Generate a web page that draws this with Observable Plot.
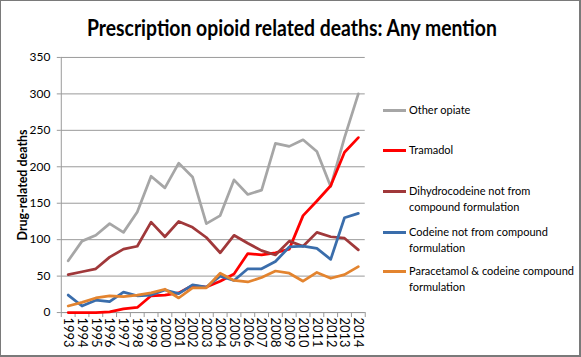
<!DOCTYPE html>
<html>
<head>
<meta charset="utf-8">
<script src="https://cdn.jsdelivr.net/npm/d3@7"></script>
<script src="https://cdn.jsdelivr.net/npm/@observablehq/plot@0.6"></script>
<style>
  html, body { margin: 0; padding: 0; background: #fff; }
  #wrap { position: relative; width: 581px; height: 357px; box-sizing: border-box;
          border: 1px solid #7a7a7a; border-right-width: 2px; border-bottom-width: 2px; overflow: hidden;
          font-family: Lato, "Open Sans", sans-serif; }
  #title { position: absolute; left: 0; top: 13px; width: 581px; text-align: center;
           font-weight: bold; font-size: 22px; color: #000; white-space: nowrap; }
  #title span { display: inline-block; transform: scaleX(0.88); transform-origin: center; }
  #chart { position: absolute; left: -1px; top: 39px; }
  #legend { position: absolute; left: 382px; top: 0; font-size: 11px; color: #000; }
  .item { position: absolute; left: 0; width: 190px; }
  .swatch { position: absolute; left: 0; width: 23px; height: 3px; }
  .label { position: absolute; left: 26px; line-height: 15.5px; white-space: nowrap; }
</style>
</head>
<body>
<div id="wrap">
  <div id="title"><span>Prescription opioid related deaths: Any mention</span></div>
  <div id="chart"></div>
  <div id="legend"></div>
</div>
<script>
const years = [1993,1994,1995,1996,1997,1998,1999,2000,2001,2002,2003,2004,2005,2006,2007,2008,2009,2010,2011,2012,2013,2014];
const seriesNames = [
  "Other opiate",
  "Tramadol",
  "Dihydrocodeine not from compound formulation",
  "Codeine not from compound formulation",
  "Paracetamol & codeine compound formulation"
];
const legendLines = [
  ["Other opiate"],
  ["Tramadol"],
  ["Dihydrocodeine not from", "compound formulation"],
  ["Codeine not from compound", "formulation"],
  ["Paracetamol & codeine compound", "formulation"]
];
const seriesColors = ["#A6A6A6", "#FF0000", "#A0383A", "#3A6DAB", "#E3842F"];
const otherOpiate    = [71, 98, 106, 122, 110, 138, 187, 171, 205, 186, 122, 133, 182, 162, 168, 232, 228, 237, 221, 173, 240, 300];
const tramadol       = [0, 0, 0, 1, 5, 7, 23, 24, 27, 37, 35, 43, 53, 81, 79, 82, 87, 133, 153, 174, 220, 240];
const dihydrocodeine = [52, 56, 60, 76, 87, 91, 124, 104, 125, 117, 103, 82, 106, 95, 85, 79, 98, 91, 110, 104, 102, 86];
const codeine        = [24, 9, 17, 15, 28, 23, 24, 31, 26, 38, 35, 50, 44, 60, 60, 70, 90, 91, 88, 73, 130, 136];
const paracetamol    = [9, 14, 20, 23, 22, 24, 27, 32, 20, 34, 34, 54, 44, 42, 48, 57, 54, 43, 55, 47, 52, 63];
const yTicks = [0, 50, 100, 150, 200, 250, 300, 350];

const seriesValues = [otherOpiate, tramadol, dihydrocodeine, codeine, paracetamol];
const data = seriesNames.flatMap((name, k) => years.map((yr, i) => ({year: yr, value: seriesValues[k][i], series: name})));
const boundaries = [years[0] - 0.5, ...years.map(y => y + 0.5)];
const axisColor = "#9a9a9a";

const plot = Plot.plot({
  width: 581,
  height: 317,
  marginTop: 17,
  marginBottom: 44,
  marginLeft: 61,
  marginRight: 215,
  x: {domain: [years[0] - 0.5, years[years.length - 1] + 0.5]},
  y: {domain: [0, 350]},
  color: {domain: seriesNames, range: seriesColors},
  style: {fontFamily: "Lato, 'Open Sans', sans-serif", fontSize: "12px", color: "#000", background: "transparent"},
  marks: [
    Plot.gridY(yTicks, {stroke: axisColor, strokeOpacity: 1}),
    Plot.axisY(yTicks, {tickSize: 4, tickPadding: 7, stroke: axisColor, label: null, fontSize: 12}),
    Plot.ruleX([years[0] - 0.5], {stroke: axisColor}),
    Plot.axisX(boundaries, {tickSize: 5, tickFormat: () => "", stroke: axisColor, label: null}),
    Plot.axisX(years, {tickSize: 0, tickPadding: 5, tickRotate: 90, tickFormat: d => String(d), label: null, fontSize: 13}),
    Plot.ruleY([0], {stroke: axisColor}),
    Plot.line(data, {x: "year", y: "value", z: "series", stroke: "series", strokeWidth: 2.75, strokeLinejoin: "round", strokeLinecap: "round"}),
    Plot.text(["Drug-related deaths"], {frameAnchor: "left", textAnchor: "middle", dx: -38, rotate: -90, fontWeight: "bold", fontSize: 12.5, text: d => d})
  ]
});
document.getElementById("chart").appendChild(plot);

// legend (HTML)
const legendTops = [110, 150, 191, 232, 271];
const legend = document.getElementById("legend");
legendLines.forEach((lines, k) => {
  const item = document.createElement("div");
  item.className = "item";
  item.style.top = (legendTops[k] - 1) + "px";
  const sw = document.createElement("div");
  sw.className = "swatch";
  sw.style.background = seriesColors[k];
  sw.style.top = "-1px";
  item.appendChild(sw);
  const lab = document.createElement("div");
  lab.className = "label";
  lab.style.top = "-8px";
  lab.innerHTML = lines.map(s => s.replace(/&/g, "&amp;")).join("<br>");
  item.appendChild(lab);
  legend.appendChild(item);
});
</script>
</body>
</html>
